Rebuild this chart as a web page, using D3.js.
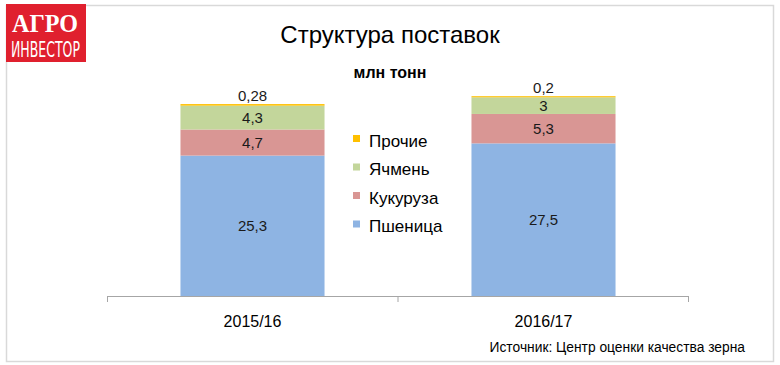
<!DOCTYPE html>
<html>
<head>
<meta charset="utf-8">
<script src="https://cdn.jsdelivr.net/npm/d3@7"></script>
<style>
  body { margin: 0; background: #fff; }
  text { font-family: "Liberation Sans", Arial, sans-serif; }
</style>
</head>
<body>
<div id="chart"></div>
<script>
var categories = ["2015/16", "2016/17"];
var seriesNames = ["Пшеница", "Кукуруза", "Ячмень", "Прочие"];
var wheat = [25.3, 27.5];
var corn = [4.7, 5.3];
var barley = [4.3, 3];
var other = [0.28, 0.2];
var valueLabels = [["25,3", "27,5"], ["4,7", "5,3"], ["4,3", "3"], ["0,28", "0,2"]];
var colors = ["#8EB4E3", "#D99694", "#C3D69B", "#FFC000"];

var width = 780, height = 365;
var svg = d3.select("#chart").append("svg")
    .attr("width", width).attr("height", height);

// frame
svg.append("rect").attr("x", 6.5).attr("y", 5.5).attr("width", 767).attr("height", 356)
    .attr("fill", "none").attr("stroke", "#d9d9d9").attr("stroke-width", 1.5);

// logo
var logo = svg.append("g");
logo.append("rect").attr("x", 6).attr("y", 4).attr("width", 80).attr("height", 58).attr("fill", "#E0202E");
logo.append("text").attr("x", 12).attr("y", 32).attr("textLength", 66).attr("lengthAdjust", "spacingAndGlyphs")
    .style("font-family", "Liberation Serif").style("font-weight", "bold").style("font-size", "26px")
    .attr("fill", "#fff").text("АГРО");
logo.append("text").attr("x", 11).attr("y", 57).attr("textLength", 69).attr("lengthAdjust", "spacingAndGlyphs")
    .style("font-family", "Liberation Sans Narrow, DejaVu Sans Condensed").style("font-size", "22px")
    .attr("fill", "#fff").text("ИНВЕСТОР");

// titles
svg.append("text").attr("x", 390).attr("y", 43).attr("text-anchor", "middle")
    .style("font-size", "24px").attr("fill", "#000").text("Структура поставок");
svg.append("text").attr("x", 390).attr("y", 78).attr("text-anchor", "middle")
    .style("font-size", "16px").style("font-weight", "bold").attr("fill", "#000").text("млн тонн");

var x = d3.scaleBand().domain(categories).range([107, 689]).paddingInner(0).paddingOuter(0);
var y = d3.scaleLinear().domain([0, 40]).range([296, 74]);

var rows = categories.map(function(c, i) {
    return { cat: c, "Пшеница": wheat[i], "Кукуруза": corn[i], "Ячмень": barley[i], "Прочие": other[i] };
});
var stacked = d3.stack().keys(seriesNames)(rows);

var barW = x.bandwidth() * 0.495;
var g = svg.append("g");
stacked.forEach(function(layer, si) {
    layer.forEach(function(d, i) {
        var cx = x(categories[i]) + x.bandwidth() / 2;
        g.append("rect")
            .attr("x", cx - barW / 2)
            .attr("y", y(d[1]))
            .attr("width", barW)
            .attr("height", y(d[0]) - y(d[1]))
            .attr("fill", colors[si]);
        var ly = si === 3 ? y(d[1]) - 3 : (y(d[0]) + y(d[1])) / 2 + 5.5;
        g.append("text").attr("x", cx).attr("y", ly).attr("text-anchor", "middle")
            .style("font-size", "15px").attr("fill", "#1a1a1a").text(valueLabels[si][i]);
    });
});

// x axis
var axis = svg.append("g").attr("transform", "translate(0,296)")
    .call(d3.axisBottom(x).tickSize(0).tickFormat(""));
axis.select(".domain").attr("stroke", "#a6a6a6").attr("d", "M107.5,6V0.5H688.5V6");
[107.5, 398, 688.5].forEach(function(t) {
    axis.append("line").attr("x1", t).attr("x2", t).attr("y1", 0).attr("y2", 6).attr("stroke", "#a6a6a6");
});
categories.forEach(function(c) {
    svg.append("text").attr("x", x(c) + x.bandwidth() / 2).attr("y", 327).attr("text-anchor", "middle")
        .style("font-size", "16px").attr("fill", "#000").text(c);
});

// legend
var legendOrder = [3, 2, 1, 0];
legendOrder.forEach(function(si, k) {
    var ly = 141 + k * 28.5;
    svg.append("rect").attr("x", 353).attr("y", ly - 6).attr("width", 7).attr("height", 7).attr("fill", colors[si]);
    svg.append("text").attr("x", 369).attr("y", ly + 5.5).style("font-size", "17px").attr("fill", "#000")
        .text(seriesNames[si]);
});

// source
svg.append("text").attr("x", 745).attr("y", 352).attr("text-anchor", "end")
    .style("font-size", "13.8px").attr("fill", "#000").text("Источник: Центр оценки качества зерна");
</script>
</body>
</html>
